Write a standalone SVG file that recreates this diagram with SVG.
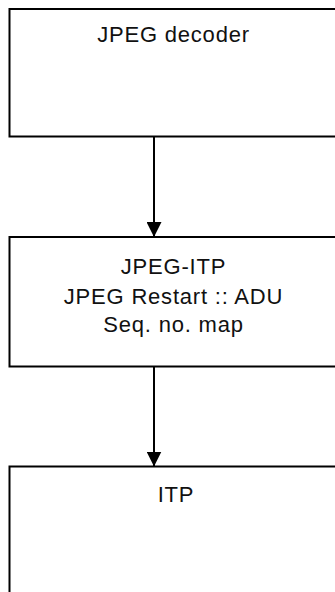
<svg xmlns="http://www.w3.org/2000/svg" width="335" height="592" viewBox="0 0 335 592">
  <defs>
    <marker id="arrow" markerWidth="15" markerHeight="15" refX="15" refY="7.5" orient="auto" markerUnits="userSpaceOnUse">
      <path d="M0,0 L15,7.5 L0,15 Z" fill="#000"/>
    </marker>
  </defs>
  <style>
    .box { fill: #fff; stroke: #000; stroke-width: 2; }
    .lbl { font-family: "Liberation Sans", Arial, sans-serif; font-size: 22px; letter-spacing: 0.8px; fill: #111; text-anchor: middle; }
    .conn { stroke: #000; stroke-width: 2; fill: none; }
  </style>
  <rect width="335" height="592" fill="#fff"/>
  <g id="connectors">
    <line class="conn" x1="154" y1="136.5" x2="154" y2="237" marker-end="url(#arrow)"/>
    <line class="conn" x1="154" y1="366.5" x2="154" y2="466.5" marker-end="url(#arrow)"/>
  </g>
  <g id="jpeg-decoder">
    <rect class="box" x="9.5" y="9" width="340" height="127.5"/>
    <text class="lbl" x="173.5" y="42">JPEG decoder</text>
  </g>
  <g id="jpeg-itp">
    <rect class="box" x="9.5" y="237" width="340" height="129.5"/>
    <text class="lbl" x="173.5" y="274">JPEG-ITP</text>
    <text class="lbl" x="173.5" y="303.5">JPEG Restart :: ADU</text>
    <text class="lbl" x="173.5" y="332">Seq. no. map</text>
  </g>
  <g id="itp">
    <rect class="box" x="9.5" y="466.5" width="340" height="140"/>
    <text class="lbl" x="176" y="502">ITP</text>
  </g>
</svg>
